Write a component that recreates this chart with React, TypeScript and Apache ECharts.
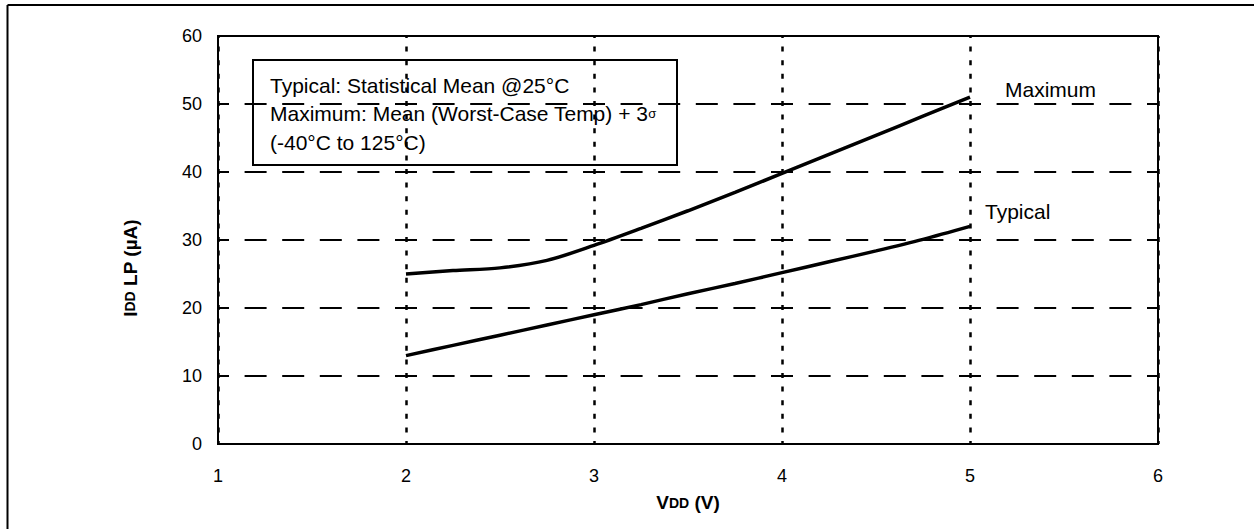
import React, { useEffect, useRef } from "react";
import * as echarts from "echarts";

const FONT = "'Liberation Sans', Arial, Helvetica, sans-serif";

const xTicks = [1, 2, 3, 4, 5, 6];
const yTicks = [0, 10, 20, 30, 40, 50, 60];

const vdd = [2, 2.25, 2.5, 2.75, 3, 3.25, 3.5, 3.75, 4, 4.25, 4.5, 4.75, 5];
const maximumIdd = [25.0, 25.5, 25.9, 27.0, 29.2, 31.7, 34.3, 37.0, 39.8, 42.6, 45.4, 48.2, 51.0];
const typicalIdd = [13.0, 14.5, 16.0, 17.5, 19.0, 20.5, 22.1, 23.6, 25.2, 26.8, 28.4, 30.1, 32.0];

const seriesNames = ["Maximum", "Typical"];
const noteLines = [
  "Typical: Statistical Mean @25°C",
  "Maximum: Mean (Worst-Case Temp) + 3",
  "(-40°C to 125°C)",
];

function pairs(xs: number[], ys: number[]) {
  return xs.map((x, i) => [x, ys[i]]);
}

export default function App() {
  const ref = useRef<HTMLDivElement>(null);
  useEffect(() => {
    if (!ref.current) return;
    const chart = echarts.init(ref.current, null, { renderer: "svg" });
    const endLabel = (name: string, offset: number[]) => ({
      show: true,
      formatter: name,
      distance: 5,
      offset,
      fontSize: 21,
      fontFamily: FONT,
      color: "#000",
    });
    const titleRich = {
      b: { fontSize: 19, fontWeight: "bold", fontFamily: FONT, fill: "#000", color: "#000" },
      s: { fontSize: 14, fontWeight: "bold", fontFamily: FONT, fill: "#000", color: "#000" },
    };
    const option: any = {
      animation: false,
      backgroundColor: "#fff",
      grid: {
        left: 218,
        width: 940,
        top: 36,
        height: 408,
        show: true,
        borderColor: "#000",
        borderWidth: 2,
        backgroundColor: "transparent",
      },
      xAxis: {
        type: "value",
        min: xTicks[0],
        max: xTicks[xTicks.length - 1],
        interval: 1,
        name: "{b|V}{s|DD}{b| (V)}",
        nameLocation: "middle",
        nameGap: 49,
        nameTextStyle: { rich: titleRich },
        axisLine: { show: true, lineStyle: { color: "#000", width: 2 } },
        axisTick: { show: false },
        axisLabel: { fontSize: 18, fontFamily: FONT, color: "#000", margin: 23 },
        splitLine: {
          show: true,
          lineStyle: { color: "#000", width: 2.5, type: [5, 8.6], dashOffset: 2.5 },
        },
      },
      yAxis: {
        type: "value",
        min: yTicks[0],
        max: yTicks[yTicks.length - 1],
        interval: 10,
        axisLine: { show: true, lineStyle: { color: "#000", width: 2 } },
        axisTick: { show: false },
        axisLabel: { fontSize: 18, fontFamily: FONT, color: "#000", margin: 16 },
        splitLine: {
          show: true,
          lineStyle: { color: "#000", width: 2, type: [22, 15.6], dashOffset: 11 },
        },
      },
      series: [
        {
          name: seriesNames[0],
          type: "line",
          smooth: 0.3,
          showSymbol: false,
          symbol: "none",
          lineStyle: { color: "#000", width: 3.5 },
          data: pairs(vdd, maximumIdd),
          endLabel: endLabel(seriesNames[0], [30, -8]),
          z: 5,
        },
        {
          name: seriesNames[1],
          type: "line",
          smooth: 0.3,
          showSymbol: false,
          symbol: "none",
          lineStyle: { color: "#000", width: 3.5 },
          data: pairs(vdd, typicalIdd),
          endLabel: endLabel(seriesNames[1], [10, -15]),
          z: 5,
        },
      ],
      graphic: [
        {
          type: "line",
          shape: { x1: 7.5, y1: 5, x2: 1254, y2: 5 },
          style: { stroke: "#000", lineWidth: 2 },
        },
        {
          type: "line",
          shape: { x1: 7.5, y1: 5, x2: 7.5, y2: 529 },
          style: { stroke: "#000", lineWidth: 2 },
        },
        {
          type: "text",
          x: 130,
          y: 268,
          rotation: Math.PI / 2,
          style: {
            text: "{b|I}{s|DD}{b| LP (µA)}",
            rich: titleRich,
            align: "center",
            verticalAlign: "middle",
            fill: "#000",
          },
        },
        {
          type: "group",
          z: 10,
          children: [
            {
              type: "rect",
              shape: { x: 253, y: 60, width: 424, height: 105 },
              style: { fill: "#fff", stroke: "#000", lineWidth: 2 },
            },
            {
              type: "text",
              x: 270,
              y: 71,
              style: {
                text:
                  "{n|" + noteLines[0] + "}\n{n|" + noteLines[1] + "}{g|σ}\n{n|" + noteLines[2] + "}",
                rich: {
                  n: { fontSize: 21, fontFamily: FONT, fill: "#000", lineHeight: 28.5 },
                  g: { fontSize: 13, fontFamily: FONT, fill: "#000", lineHeight: 28.5 },
                },
                fill: "#000",
              },
            },
          ],
        },
      ],
    };
    chart.setOption(option);
    return () => chart.dispose();
  }, []);
  return (
    <div
      ref={ref}
      style={{ position: "fixed", left: 0, top: 0, width: 1254, height: 529, background: "#fff" }}
    />
  );
}
